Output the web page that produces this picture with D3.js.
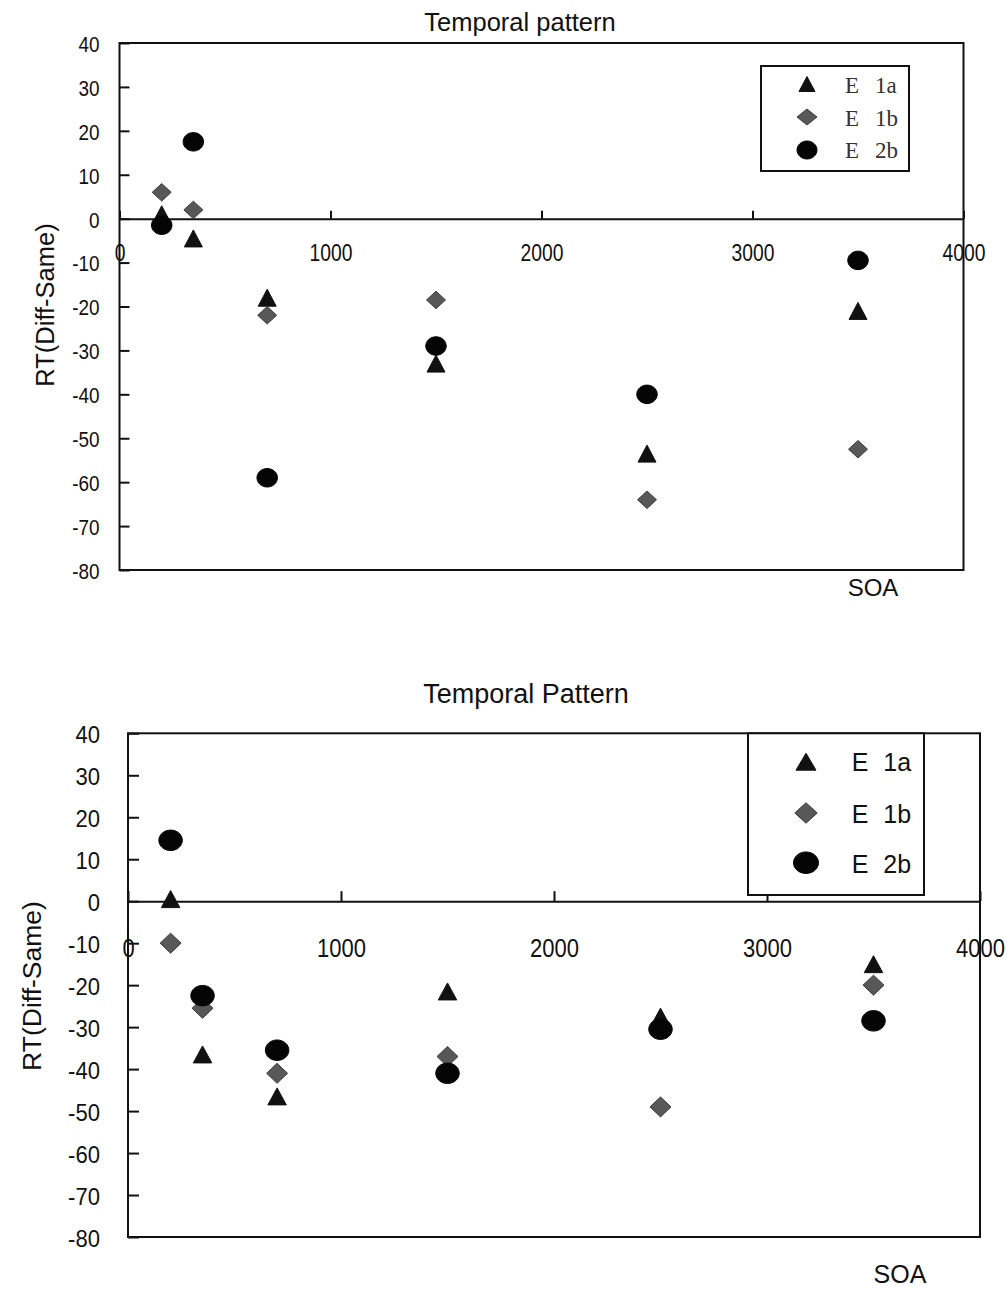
<!DOCTYPE html>
<html>
<head>
<meta charset="utf-8">
<script src="https://cdn.jsdelivr.net/npm/d3@7"></script>
<style>
  html, body { margin: 0; padding: 0; background: #fff; }
  svg { display: block; }
</style>
</head>
<body>
<svg id="fig" width="1008" height="1289"></svg>
<script>
// SOA levels (ms) shared by both panels
const soaValues = [200, 350, 700, 1500, 2500, 3500];
const xTickValues = [0, 1000, 2000, 3000, 4000];
const yTickValues = [-80, -70, -60, -50, -40, -30, -20, -10, 0, 10, 20, 30, 40];
const seriesNames = ["E 1a", "E 1b", "E 2b"];

// RT difference (Diff - Same), upper panel
const topE1a = [1, -4.5, -18, -33, -53.5, -21];
const topE1b = [6, 2, -22, -18.5, -64, -52.5];
const topE2b = [-1.5, 17.5, -59, -29, -40, -9.5];

// RT difference (Diff - Same), lower panel
const bottomE1a = [0.5, -36.5, -46.5, -21.5, -27.5, -15];
const bottomE1b = [-10, -25.5, -41, -37, -49, -20];
const bottomE2b = [14.5, -22.5, -35.5, -41, -30.5, -28.5];

const SANS = "'Liberation Sans', Arial, sans-serif";
const SERIF = "'Liberation Serif', 'Times New Roman', serif";

const svg = d3.select("#fig");

// marker shapes with independent width / height
const triangleType = (w, h) => ({ draw(ctx) {
  ctx.moveTo(0, -h / 2); ctx.lineTo(w / 2, h / 2); ctx.lineTo(-w / 2, h / 2); ctx.closePath();
}});
const diamondType = (w, h) => ({ draw(ctx) {
  ctx.moveTo(0, -h / 2); ctx.lineTo(w / 2, 0); ctx.lineTo(0, h / 2); ctx.lineTo(-w / 2, 0); ctx.closePath();
}});
const ellipseType = (w, h) => ({ draw(ctx) {
  const k = 0.5523;
  const rx = w / 2, ry = h / 2;
  ctx.moveTo(rx, 0);
  ctx.bezierCurveTo(rx, ry * k, rx * k, ry, 0, ry);
  ctx.bezierCurveTo(-rx * k, ry, -rx, ry * k, -rx, 0);
  ctx.bezierCurveTo(-rx, -ry * k, -rx * k, -ry, 0, -ry);
  ctx.bezierCurveTo(rx * k, -ry, rx, -ry * k, rx, 0);
  ctx.closePath();
}});

const seriesStyle = [
  { shape: triangleType, fill: "#111", stroke: "#111" },
  { shape: diamondType, fill: "#585858", stroke: "#3c3c3c" },
  { shape: ellipseType, fill: "#050505", stroke: "#050505" }
];

function drawPanel(cfg) {
  const g = svg.append("g");
  const x = d3.scaleLinear().domain([0, 4000]).range(cfg.xRange);
  const y = d3.scaleLinear().domain([-80, 40]).range(cfg.yRange);
  const plain = d => String(d);

  // plot frame
  g.append("rect")
    .attr("x", x(0)).attr("y", y(40))
    .attr("width", x(4000) - x(0)).attr("height", y(-80) - y(40))
    .attr("fill", "none").attr("stroke", "#111").attr("stroke-width", 2);

  // y axis: ticks inward, labels to the left
  const yAxis = g.append("g")
    .attr("transform", `translate(${x(0)},0)`)
    .call(d3.axisLeft(y).tickValues(yTickValues).tickFormat(plain)
      .tickSizeInner(-cfg.yTickLen).tickSizeOuter(0).tickPadding(cfg.yPad));
  yAxis.select(".domain").remove();
  yAxis.selectAll("line").attr("stroke", "#111").attr("stroke-width", 2);
  yAxis.selectAll("text")
    .style("font-family", SANS)
    .style("font-size", cfg.yFont + "px")
    .style("fill", "#111")
    .attr("x", -cfg.yPad / cfg.yScaleX)
    .attr("dy", "0.38em")
    .attr("transform", `scale(${cfg.yScaleX},1)`);

  // x axis on the zero line: ticks upward, labels well below
  const xAxis = g.append("g")
    .attr("transform", `translate(0,${y(0)})`)
    .call(d3.axisBottom(x).tickValues(xTickValues).tickFormat(plain)
      .tickSizeInner(-cfg.xTickLen).tickSizeOuter(0));
  xAxis.select(".domain").attr("stroke", "#111").attr("stroke-width", 2);
  xAxis.selectAll("line").attr("stroke", "#111").attr("stroke-width", 2);
  xAxis.selectAll("text")
    .style("font-family", SANS)
    .style("font-size", cfg.xFont + "px")
    .style("fill", "#111")
    .attr("dy", null)
    .attr("y", cfg.xLabelOffset)
    .attr("transform", `scale(${cfg.xScaleX},1)`);

  // series markers
  cfg.series.forEach((vals, i) => {
    const st = seriesStyle[i];
    const sz = cfg.markerSize[i];
    const sym = d3.symbol().type(st.shape(sz[0], sz[1]));
    g.append("g").selectAll("path")
      .data(soaValues.map((s, j) => ({ soa: s, v: vals[j] })))
      .join("path")
      .attr("d", sym)
      .attr("transform", d => `translate(${x(d.soa)},${y(d.v)})`)
      .attr("fill", st.fill)
      .attr("stroke", st.stroke)
      .attr("stroke-width", 1);
  });

  // title
  g.append("text")
    .attr("x", cfg.title.x).attr("y", cfg.title.y)
    .attr("text-anchor", "middle")
    .style("font-family", SANS).style("font-size", cfg.title.size + "px").style("fill", "#111")
    .text(cfg.title.text);

  // y axis title
  g.append("text")
    .attr("transform", `translate(${cfg.yLabel.x},${cfg.yLabel.y}) rotate(-90)`)
    .attr("text-anchor", "middle")
    .attr("dy", "0.35em")
    .style("font-family", SANS).style("font-size", cfg.yLabel.size + "px").style("fill", "#111")
    .text("RT(Diff-Same)");

  // x axis title
  g.append("text")
    .attr("x", cfg.xLabel.x).attr("y", cfg.xLabel.y)
    .attr("text-anchor", "middle")
    .style("font-family", SANS).style("font-size", cfg.xLabel.size + "px").style("fill", "#111")
    .text("SOA");

  // legend
  const L = cfg.legend;
  g.append("rect")
    .attr("x", L.x0).attr("y", L.y0)
    .attr("width", L.x1 - L.x0).attr("height", L.y1 - L.y0)
    .attr("fill", "#fff").attr("stroke", "#111").attr("stroke-width", 2);
  seriesNames.forEach((name, i) => {
    const st = seriesStyle[i];
    const sz = L.markerSize[i];
    g.append("path")
      .attr("d", d3.symbol().type(st.shape(sz[0], sz[1]))())
      .attr("transform", `translate(${L.markerX},${L.rowY[i]})`)
      .attr("fill", st.fill).attr("stroke", st.stroke).attr("stroke-width", 1);
    const parts = name.split(" ");
    const t = g.append("text")
      .attr("y", L.baseY[i])
      .style("font-size", L.font + "px")
      .style("font-family", L.family)
      .style("fill", L.color);
    t.append("tspan").attr("x", L.textX).text(parts[0]);
    t.append("tspan").attr("x", L.suffixX).text(parts[1]);
  });
}

drawPanel({
  xRange: [119.5, 963.5],
  yRange: [570, 43],
  yTickLen: 10, yPad: 20, yFont: 22, yScaleX: 0.86,
  xTickLen: 8, xFont: 23, xScaleX: 0.84, xLabelOffset: 42.5,
  series: [topE1a, topE1b, topE2b],
  markerSize: [[18, 17], [19, 17.5], [20.5, 18.5]],
  title: { text: "Temporal pattern", x: 520, y: 30.5, size: 25.5 },
  yLabel: { x: 45, y: 305, size: 25.5 },
  xLabel: { x: 873, y: 596, size: 24 },
  legend: {
    x0: 761, y0: 66, x1: 909, y1: 171,
    markerX: 807, rowY: [84, 117, 150],
    markerSize: [[16, 15], [20, 16], [20, 18]],
    textX: 845, suffixX: 875, baseY: [92.7, 126, 158.3],
    font: 23, family: SERIF, color: "#333"
  }
});

drawPanel({
  xRange: [128, 980],
  yRange: [1237, 733.3],
  yTickLen: 11, yPad: 28, yFont: 24, yScaleX: 0.92,
  xTickLen: 10, xFont: 25, xScaleX: 0.88, xLabelOffset: 55.8,
  series: [bottomE1a, bottomE1b, bottomE2b],
  markerSize: [[18.5, 17], [21, 20], [23.5, 20.5]],
  title: { text: "Temporal Pattern", x: 526, y: 703, size: 27 },
  yLabel: { x: 32, y: 986, size: 26.5 },
  xLabel: { x: 900, y: 1283, size: 25 },
  legend: {
    x0: 748, y0: 733.3, x1: 924, y1: 895,
    markerX: 806, rowY: [761.7, 813, 862.7],
    markerSize: [[20, 17], [22.5, 20.5], [25, 21.5]],
    textX: 851.7, suffixX: 883.3, baseY: [770.7, 822.7, 872.7],
    font: 25, family: SANS, color: "#111"
  }
});
</script>
</body>
</html>
